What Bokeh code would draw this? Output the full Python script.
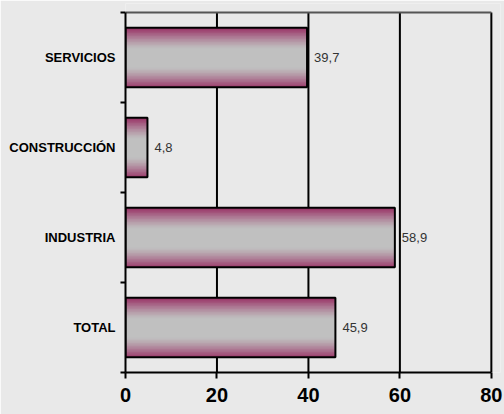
from bokeh.plotting import figure
from bokeh.models import FixedTicker, ColumnDataSource
from bokeh.core.properties import value
from bokeh.embed import file_html
from bokeh.resources import INLINE

categories = ["TOTAL", "INDUSTRIA", "CONSTRUCCIÓN", "SERVICIOS"]
values = [45.9, 58.9, 4.8, 39.7]
x_ticks = [0, 20, 40, 60, 80]

BAR_H = 0.66
N_STRIPS = 40
EDGE = (153, 51, 102)
MID = (192, 192, 192)
BG = "#E9E9E9"

XMAX = x_ticks[-1]
YMAX = len(categories)

p = figure(width=504, height=414, x_range=(x_ticks[0], XMAX + 2), y_range=(0, YMAX + 0.1),
           output_backend="svg", toolbar_location=None,
           min_border_left=125, min_border_right=4, min_border_top=3, min_border_bottom=42)
p.background_fill_color = BG
p.border_fill_color = BG
p.outline_line_color = None
p.xgrid.grid_line_color = None
p.ygrid.grid_line_color = None

ys = [i + 0.5 for i in range(len(categories))]

# vertical grid lines (behind bars), including the right frame line at 80
gx = x_ticks[1:]
p.segment(x0=gx, y0=[0] * len(gx), x1=gx, y1=[YMAX] * len(gx), line_color="black", line_width=2)

# gradient strips
sx_y, sx_r, sx_c = [], [], []
for yc, v in zip(ys, values):
    for k in range(N_STRIPS):
        frac = (k + 0.5) / N_STRIPS
        t = abs(frac - 0.5) * 2
        f = max(0.0, (t - 0.3) / 0.7) ** 1.3
        col = tuple(int(round(MID[j] + (EDGE[j] - MID[j]) * f)) for j in range(3))
        sx_y.append(yc - BAR_H / 2 + frac * BAR_H)
        sx_r.append(v)
        sx_c.append("#%02x%02x%02x" % col)
p.hbar(y=sx_y, left=0, right=sx_r, height=BAR_H / N_STRIPS * 2.0, fill_color=sx_c, line_color=None)

# bar outlines
p.hbar(y=ys, left=0, right=values, height=BAR_H, fill_color=None, line_color="black", line_width=2)

# top frame line
p.segment(x0=[x_ticks[0]], y0=[YMAX], x1=[XMAX], y1=[YMAX], line_color="#555555", line_width=2)

# value labels
labels = [f"{v:.1f}".replace(".", ",") for v in values]
src = ColumnDataSource(dict(x=values, y=ys, t=labels))
p.text(x="x", y="y", text="t", source=src, x_offset=7, text_align="left", text_baseline="middle",
       text_font_size="13px", text_color="#333333", text_font=value("Liberation Sans"))

# x axis
xa = p.xaxis[0]
xa.ticker = FixedTicker(ticks=x_ticks)
xa.bounds = (x_ticks[0], XMAX)
xa.axis_line_width = 2
xa.major_tick_line_width = 2
xa.major_tick_out = 6
xa.major_tick_in = 0
xa.minor_tick_line_color = None
xa.major_label_text_font = "Liberation Sans"
xa.major_label_text_font_style = "bold"
xa.major_label_text_font_size = "20px"
xa.major_label_text_color = "black"
xa.major_label_standoff = 9

# y axis
ya = p.yaxis[0]
ya.ticker = FixedTicker(ticks=ys, minor_ticks=list(range(len(categories) + 1)))
ya.bounds = (0, YMAX)
ya.major_label_overrides = {y: c for y, c in zip(ys, categories)}
ya.axis_line_width = 2
ya.major_tick_line_color = None
ya.major_tick_out = 0
ya.major_tick_in = 0
ya.minor_tick_line_width = 2
ya.minor_tick_out = 5
ya.minor_tick_in = 0
ya.major_label_text_font = "Liberation Sans"
ya.major_label_text_font_style = "bold"
ya.major_label_text_font_size = "13px"
ya.major_label_text_color = "black"
ya.major_label_standoff = 5

open("out.html", "w").write(file_html(p, INLINE))
